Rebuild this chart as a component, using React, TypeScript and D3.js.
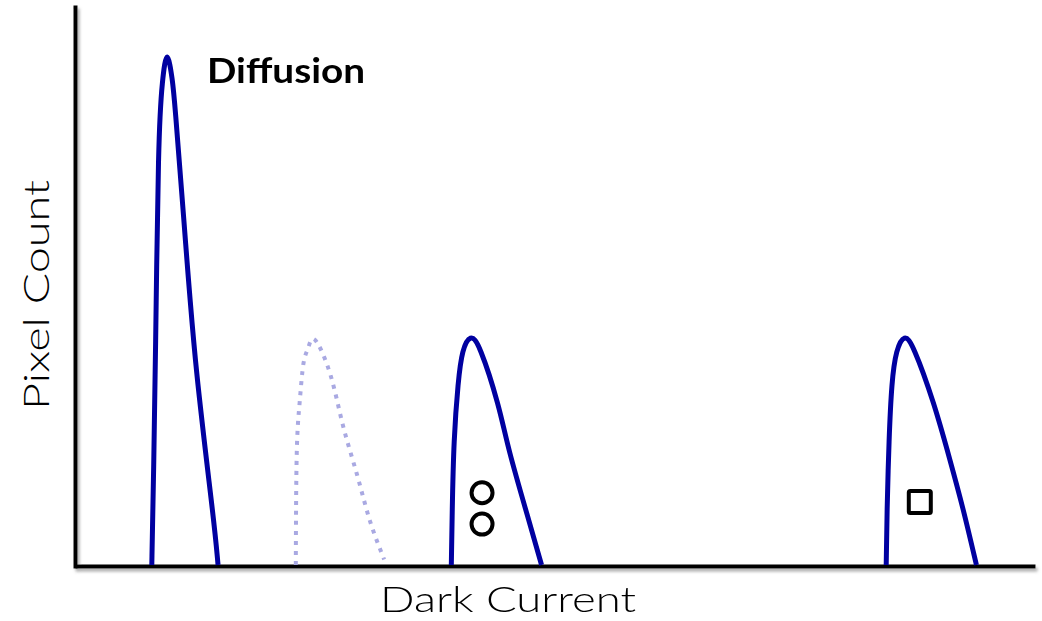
import * as d3 from "d3";
import { useRef, useEffect } from "react";

// peaks, x = dark current (0-100), y = pixel count (0-100)
const diffusionX = [8.0, 8.2, 8.4, 8.7, 9.1, 9.6, 10.1, 10.5, 11.5, 12.7, 14.3, 14.9];
const diffusionY = [0, 18, 40, 72, 86, 90.7, 87, 80, 58, 34, 10, 0];

const ghostX = [23.0, 23.1, 23.4, 23.8, 24.3, 25.0, 26.6, 27.9, 29.4, 30.7, 32.2];
const ghostY = [0, 20, 29, 36, 38.8, 40.2, 34, 25, 16, 8, 1];

const defectAX = [39.2, 39.3, 39.5, 39.9, 40.4, 41.2, 42.3, 44.0, 45.3, 47.1, 48.6];
const defectAY = [0, 10, 22, 32, 38, 40.5, 38, 29, 20, 9, 0];

const defectBX = [84.5, 84.6, 84.8, 85.1, 85.6, 86.4, 87.5, 89.4, 91.1, 92.5, 93.9];
const defectBY = [0, 10, 22, 32, 38, 40.5, 38, 29, 19, 10, 0];

const circleMarkers = [
  { x: 42.4, y: 12.9 },
  { x: 42.4, y: 7.3 },
];
const squareMarkers = [{ x: 88.0, y: 11.25 }];

const peakLabel = "Diffusion";
const xLabel = "Dark Current";
const yLabel = "Pixel Count";

function App() {
  const width = 1042;
  const height = 621;
  const margin = { left: 75, right: 7, top: 5, bottom: 56 };

  const svgRef = useRef(null);

  useEffect(() => {
    const svg = d3.select(svgRef.current);
    svg.selectAll("*").remove();

    const x = d3
      .scaleLinear()
      .domain([0, 100])
      .range([margin.left, width - margin.right]);
    const y = d3
      .scaleLinear()
      .domain([0, 100])
      .range([height - margin.bottom, margin.top]);

    const defs = svg.append("defs");
    defs
      .append("filter")
      .attr("id", "shadow")
      .attr("x", "-5%")
      .attr("y", "-5%")
      .attr("width", "110%")
      .attr("height", "110%")
      .append("feDropShadow")
      .attr("dx", 2)
      .attr("dy", 3)
      .attr("stdDeviation", 1.5)
      .attr("flood-color", "#777")
      .attr("flood-opacity", 0.6);

    const line = d3
      .line<[number, number]>()
      .x((d) => x(d[0]))
      .y((d) => y(d[1]))
      .curve(d3.curveNatural);

    const peaks = [
      { xs: diffusionX, ys: diffusionY, dotted: false },
      { xs: ghostX, ys: ghostY, dotted: true },
      { xs: defectAX, ys: defectAY, dotted: false },
      { xs: defectBX, ys: defectBY, dotted: false },
    ];

    // axes without ticks
    const axes = svg.append("g").attr("filter", "url(#shadow)");
    const xAxis = axes
      .append("g")
      .attr("transform", `translate(0,${y(0) + 1})`)
      .call(d3.axisBottom(x).tickValues([]).tickSizeOuter(0));
    const yAxis = axes
      .append("g")
      .attr("transform", `translate(${x(0)},0)`)
      .call(
        d3
          .axisLeft(d3.scaleLinear().domain([0, 1]).range([y(0) + 3, margin.top]))
          .tickValues([])
          .tickSizeOuter(0)
      );
    [xAxis, yAxis].forEach((a) =>
      a.select(".domain").attr("stroke", "#000").attr("stroke-width", 4)
    );

    svg
      .append("g")
      .selectAll("path")
      .data(peaks)
      .join("path")
      .attr("d", (d) => line(d.xs.map((v, i) => [v, d.ys[i]] as [number, number])))
      .attr("fill", "none")
      .attr("stroke", (d) => (d.dotted ? "#a9a9e2" : "#0000a0"))
      .attr("stroke-width", (d) => (d.dotted ? 4 : 5))
      .attr("stroke-dasharray", (d) => (d.dotted ? "4 6" : null))
      .attr("stroke-linecap", "butt");

    svg
      .append("g")
      .selectAll("circle")
      .data(circleMarkers)
      .join("circle")
      .attr("cx", (d) => x(d.x))
      .attr("cy", (d) => y(d.y))
      .attr("r", 10.5)
      .attr("fill", "none")
      .attr("stroke", "#000")
      .attr("stroke-width", 4);

    svg
      .append("g")
      .selectAll("rect")
      .data(squareMarkers)
      .join("rect")
      .attr("x", (d) => x(d.x) - 11)
      .attr("y", (d) => y(d.y) - 11)
      .attr("width", 22)
      .attr("height", 22)
      .attr("rx", 1.5)
      .attr("fill", "none")
      .attr("stroke", "#000")
      .attr("stroke-width", 4);

    const font = "'Lato', 'Open Sans', sans-serif";

    svg
      .append("text")
      .attr("x", 207)
      .attr("y", 83)
      .attr("font-family", font)
      .attr("font-weight", 700)
      .attr("font-size", 35)
      .attr("textLength", 158)
      .attr("lengthAdjust", "spacingAndGlyphs")
      .attr("fill", "#000")
      .text(peakLabel);

    svg
      .append("text")
      .attr("x", 508)
      .attr("y", 612)
      .attr("text-anchor", "middle")
      .attr("font-family", font)
      .attr("font-weight", 300)
      .attr("font-size", 36)
      .attr("textLength", 256)
      .attr("lengthAdjust", "spacingAndGlyphs")
      .attr("fill", "#000")
      .text(xLabel);

    svg
      .append("text")
      .attr("transform", `translate(49,295) rotate(-90)`)
      .attr("text-anchor", "middle")
      .attr("font-family", font)
      .attr("font-weight", 300)
      .attr("font-size", 36)
      .attr("textLength", 230)
      .attr("lengthAdjust", "spacingAndGlyphs")
      .attr("fill", "#000")
      .text(yLabel);
  }, []);

  return (
    <svg
      ref={svgRef}
      width={width}
      height={height}
      style={{ position: "absolute", left: 0, top: 0, background: "#fff" }}
    ></svg>
  );
}

export default App;
